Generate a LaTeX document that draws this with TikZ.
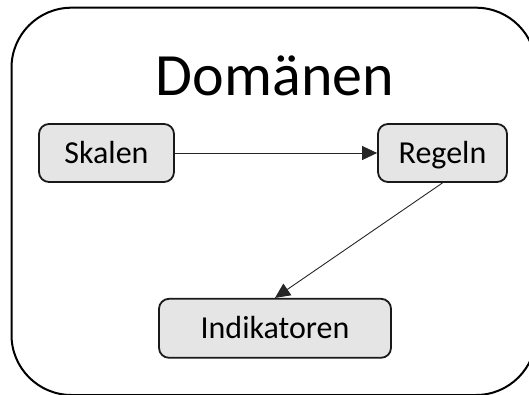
\documentclass[tikz,border=0pt]{standalone}
\usepackage{fontspec}
\setmainfont{Carlito}
\usetikzlibrary{arrows.meta}

\tikzset{
  box/.style={draw=black!90, line width=1.8pt, fill=black!10, rounded corners=10pt,
    inner sep=0pt, text height=20pt, text depth=0pt,
    font=\fontsize{32}{38}\selectfont, text=black},
  link/.style={draw=black!85, line width=0.9pt, -{Triangle[length=15pt,width=14pt]}},
  frame/.style={draw=black, line width=2pt, rounded corners=60pt}
}

\begin{document}
\begin{tikzpicture}[x=1pt,y=-1pt]
  \useasboundingbox (0,0) rectangle (529,394);
  \clip (0,0) rectangle (529,394);

  % outer frame
  \draw[frame] (11.5,7.7) rectangle (536,395);

  % title
  \node[anchor=base, inner sep=0pt, font=\fontsize{60}{68}\selectfont] (title) at (275,95) {Domänen};

  % boxes
  \node[box, minimum width=135pt, minimum height=58pt] (skalen) at (106.5,153) {Skalen};
  \node[box, minimum width=129pt, minimum height=58pt] (regeln) at (442.5,153) {Regeln};
  \node[box, minimum width=232pt, minimum height=59pt] (ind) at (275,328.3) {Indikatoren};

  % connectors
  \draw[link] (skalen.east) -- (regeln.west);
  \draw[link] (regeln.south) -- (ind.north);
\end{tikzpicture}
\end{document}
